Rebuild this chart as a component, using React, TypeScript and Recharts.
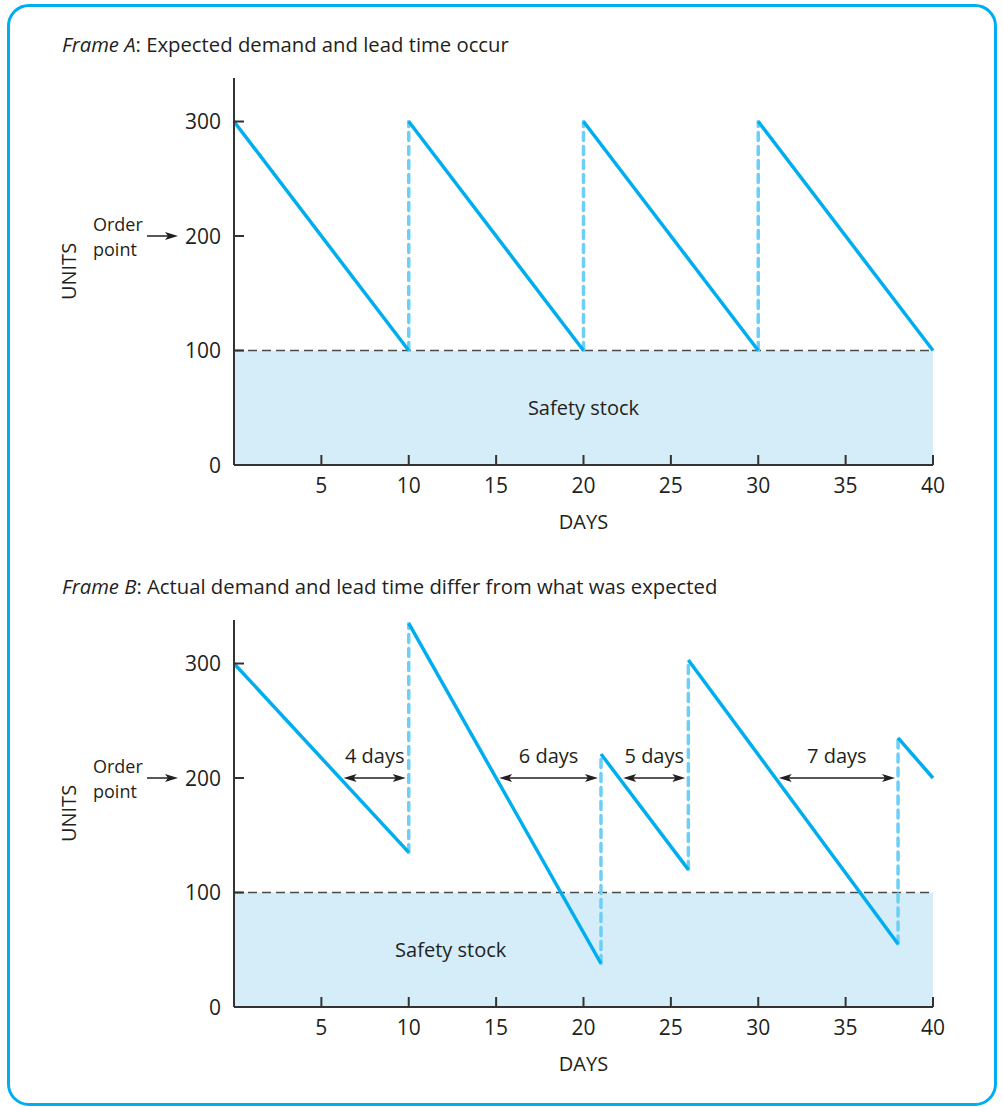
import { ComposedChart, Line, XAxis, YAxis, ReferenceArea, ReferenceLine, ReferenceDot } from "recharts";

const dayTicks = [5, 10, 15, 20, 25, 30, 35, 40];
const unitTicks = [0, 100, 200, 300];
const orderPoint = 200;
const safetyStock = 100;

// Frame A: expected demand, every cycle is 10 days
const cycleStartA = [0, 10, 20, 30];
const cycleEndA = [10, 20, 30, 40];
const peakA = [300, 300, 300, 300];
const troughA = [100, 100, 100, 100];

// Frame B: actual demand and lead time
const cycleStartB = [0, 10, 21, 26, 38];
const cycleEndB = [10, 21, 26, 38, 40];
const peakB = [300, 335, 221, 303, 235];
const troughB = [135, 38, 120, 55, 200];

// lead times, from order point crossing to delivery
const leadFromB = [6.1, 15, 22.1, 31];
const leadToB = [10, 21, 26, 38];
const leadLabelB = ["4 days", "6 days", "5 days", "7 days"];

const safetyLabelA = [20, 50];
const safetyLabelB = [12.4, 50];

const INK = "#231f20";
const AXIS = "#333333";
const LINE = "#00aeef";
const DASH = "#6dcff6";
const FILL = "#d5ecf9";
const FONT = "'Open Sans', sans-serif";

const sawtooth = (start: number[], end: number[], peak: number[], trough: number[]) =>
  start.flatMap((s, i) => [
    { day: s, units: peak[i] },
    { day: end[i], units: trough[i] },
    { day: end[i], units: null },
  ]);

const reorders = (end: number[], peak: number[], trough: number[]) =>
  end.slice(0, -1).flatMap((d, i) => [
    { day: d, units: trough[i] },
    { day: d, units: peak[i + 1] },
    { day: d, units: null },
  ]);

const UnitTick = ({ x, y, payload }: any) => {
  const v = payload.value;
  return (
    <g>
      {v > 0 && <line x1={x} x2={x + 10} y1={y} y2={y} stroke={AXIS} strokeWidth={2} />}
      <text x={x - 13} y={y + 7.5} textAnchor="end" fontSize={21} fill={INK}>
        {v}
      </text>
      {v === orderPoint && (
        <g>
          <text x={x - 141} y={y - 5.5} fontSize={18} fill={INK}>Order</text>
          <text x={x - 141} y={y + 19.5} fontSize={18} fill={INK}>point</text>
          <line x1={x - 87} x2={x - 64} y1={y} y2={y} stroke={INK} strokeWidth={1.5} />
          <path d={`M${x - 56},${y} L${x - 69},${y - 4} L${x - 66},${y} L${x - 69},${y + 4} Z`} fill={INK} />
        </g>
      )}
    </g>
  );
};

const DayTick = ({ x, y, payload }: any) => (
  <g>
    <line x1={x} x2={x} y1={y} y2={y - 10} stroke={AXIS} strokeWidth={2} />
    <text x={x} y={y + 28} textAnchor="middle" fontSize={21} fill={INK}>
      {payload.value}
    </text>
  </g>
);

const LeadArrow = (props: any) => {
  const { x1, x2, y1 } = props;
  const a = Math.min(x1, x2) + 3;
  const b = Math.max(x1, x2) - 3;
  const y = y1;
  return (
    <g>
      <line x1={a + 8} x2={b - 8} y1={y} y2={y} stroke={INK} strokeWidth={1.5} />
      <path d={`M${a},${y} L${a + 13},${y - 4} L${a + 10},${y} L${a + 13},${y + 4} Z`} fill={INK} />
      <path d={`M${b},${y} L${b - 13},${y - 4} L${b - 10},${y} L${b - 13},${y + 4} Z`} fill={INK} />
    </g>
  );
};

const unitsLabel = ({ viewBox }: any) => {
  const cx = viewBox.x + 18;
  const cy = viewBox.y + viewBox.height / 2;
  return (
    <text x={cx} y={cy} transform={`rotate(-90 ${cx} ${cy})`} textAnchor="middle" dominantBaseline="central" fontSize={20} fill={INK}>
      UNITS
    </text>
  );
};

const daysLabel = ({ viewBox }: any) => (
  <text x={viewBox.x + viewBox.width / 2} y={viewBox.y + 64} textAnchor="middle" fontSize={20} fill={INK}>
    DAYS
  </text>
);

interface FrameProps {
  top: number;
  line: any[];
  verticals: any[];
  safetyLabel: number[];
  leads?: boolean;
}

const Frame = ({ top, line, verticals, safetyLabel, leads }: FrameProps) => (
  <div style={{ position: "absolute", left: 0, top }}>
    <ComposedChart
      width={990}
      height={490}
      margin={{ top: 18, right: 57, bottom: 19, left: 50 }}
      style={{ fontFamily: FONT }}
    >
      <XAxis
        dataKey="day"
        type="number"
        domain={[0, 40]}
        ticks={dayTicks}
        height={66}
        tickSize={0}
        tickMargin={0}
        tickLine={false}
        axisLine={{ stroke: AXIS, strokeWidth: 2 }}
        tick={<DayTick />}
        label={daysLabel}
        interval={0}
      />
      <YAxis
        type="number"
        domain={[0, 338]}
        ticks={unitTicks}
        width={184}
        tickSize={0}
        tickMargin={0}
        tickLine={false}
        axisLine={{ stroke: AXIS, strokeWidth: 2 }}
        tick={<UnitTick />}
        label={unitsLabel}
        interval={0}
      />
      <ReferenceArea x1={0} x2={40} y1={0} y2={safetyStock} fill={FILL} fillOpacity={1} stroke="none" />
      <ReferenceDot
        x={safetyLabel[0]}
        y={safetyLabel[1]}
        r={0}
        stroke="none"
        fill="none"
        label={{ value: "Safety stock", position: "center", fontSize: 20, fill: INK }}
      />
      <ReferenceLine y={safetyStock} stroke="#4a4a4a" strokeWidth={1.6} strokeDasharray="9 5" />
      <Line
        data={verticals}
        dataKey="units"
        type="linear"
        stroke={DASH}
        strokeWidth={3.5}
        strokeDasharray="8 6"
        strokeLinecap="round"
        dot={false}
        activeDot={false}
        isAnimationActive={false}
      />
      <Line
        data={line}
        dataKey="units"
        type="linear"
        stroke={LINE}
        strokeWidth={3.5}
        dot={false}
        activeDot={false}
        isAnimationActive={false}
      />
      {leads &&
        leadFromB.map((from, i) => (
          <ReferenceLine
            key={leadLabelB[i]}
            segment={[
              { x: from, y: orderPoint },
              { x: leadToB[i], y: orderPoint },
            ]}
            shape={LeadArrow}
            label={{ value: leadLabelB[i], position: "top", offset: 15, fontSize: 20, fill: INK }}
          />
        ))}
    </ComposedChart>
  </div>
);

const titleStyle: React.CSSProperties = {
  position: "absolute",
  left: 62,
  fontFamily: FONT,
  fontSize: 20.3,
  lineHeight: "20px",
  color: INK,
  whiteSpace: "nowrap",
};

export default function App() {
  return (
    <div>
      <div
        style={{
          position: "absolute",
          left: 7,
          top: 4,
          width: 990,
          height: 1102,
          boxSizing: "border-box",
          border: `3.5px solid ${LINE}`,
          borderRadius: 22,
        }}
      />
      <div style={{ ...titleStyle, top: 34 }}>
        <i>Frame A</i>: Expected demand and lead time occur
      </div>
      <Frame
        top={60}
        line={sawtooth(cycleStartA, cycleEndA, peakA, troughA)}
        verticals={reorders(cycleEndA, peakA, troughA)}
        safetyLabel={safetyLabelA}
      />
      <div style={{ ...titleStyle, top: 576 }}>
        <i>Frame B</i>: Actual demand and lead time differ from what was expected
      </div>
      <Frame
        top={602}
        line={sawtooth(cycleStartB, cycleEndB, peakB, troughB)}
        verticals={reorders(cycleEndB, peakB, troughB)}
        safetyLabel={safetyLabelB}
        leads
      />
    </div>
  );
}
